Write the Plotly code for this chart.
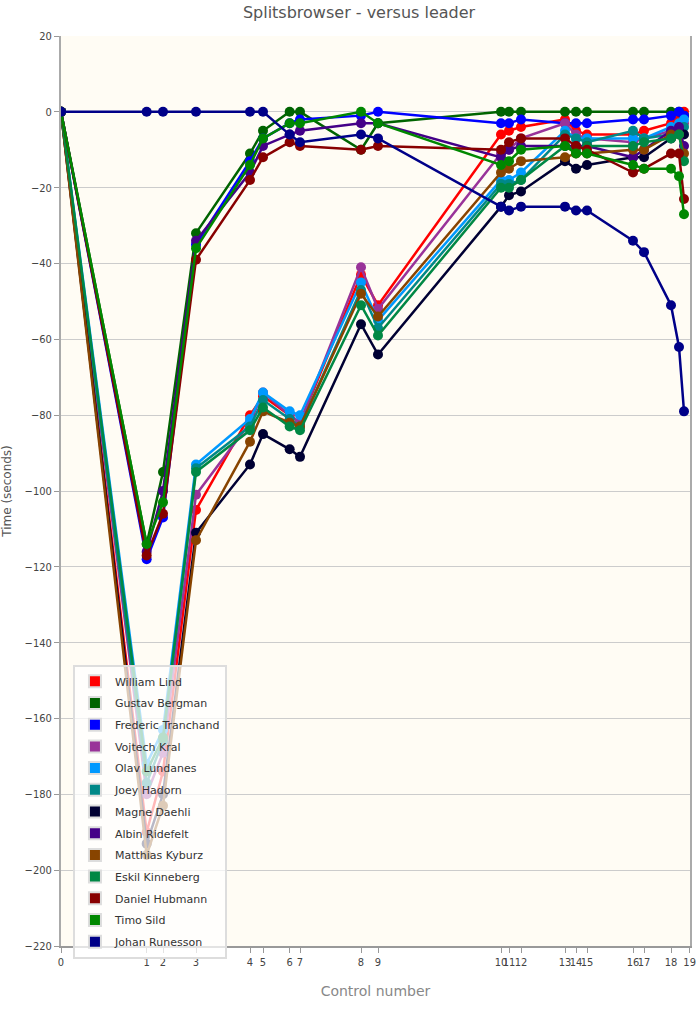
import plotly.graph_objects as go

# cumulative leader time (seconds) at each control column (0..18, 19, finish)
control_x = [0, 257, 306, 405, 567, 606, 686, 717, 900, 951, 1320, 1344, 1380,
             1512, 1545, 1578, 1716, 1749, 1830, 1854, 1869]
tick_vals = [0, 257, 306, 405, 567, 606, 686, 717, 900, 951, 1320, 1344, 1380,
             1512, 1545, 1578, 1716, 1749, 1830, 1886]
tick_text = [str(i) for i in range(20)]

runners = ["William Lind", "Gustav Bergman", "Frederic Tranchand", "Vojtech Kral",
           "Olav Lundanes", "Joey Hadorn", "Magne Daehli", "Albin Ridefelt",
           "Matthias Kyburz", "Eskil Kinneberg", "Daniel Hubmann", "Timo Sild",
           "Johan Runesson"]
colours = ["#ff0000", "#006400", "#0000ff", "#993399", "#0099ff", "#008888",
           "#000033", "#440088", "#884400", "#008844", "#880000", "#008800",
           "#000088"]

william = [0, -190, -174, -105, -80, -75, -80, -82, -43, -51, -6, -5, -4, -2, -5, -6, -6, -5, -3, -1, 0]
gustav = [0, -114, -95, -32, -11, -5, 0, 0, -10, -3, 0, 0, 0, 0, 0, 0, 0, 0, 0, 0, -1]
frederic = [0, -118, -107, -35, -13, -7, -3, -2, -1, 0, -3, -3, -2, -3, -3, -3, -2, -2, -1, 0, -1]
vojtech = [0, -180, -169, -101, -82, -74, -80, -82, -41, -52, -11, -10, -7, -3, -6, -7, -8, -7, -5, -4, -3]
olav = [0, -172, -163, -93, -81, -74, -79, -80, -45, -55, -18, -18, -16, -5, -7, -7, -7, -7, -4, -3, -2]
joey = [0, -177, -166, -94, -83, -76, -81, -83, -47, -57, -19, -19, -18, -6, -7, -8, -5, -7, -6, -5, -4]
magne = [0, -193, -180, -111, -93, -85, -89, -91, -56, -64, -25, -22, -21, -13, -15, -14, -12, -12, -7, -5, -6]
albin = [0, -116, -100, -34, -16, -9, -6, -5, -3, -3, -12, -10, -9, -9, -9, -9, -12, -10, -5, -4, -9]
matthias = [0, -196, -183, -113, -87, -79, -82, -83, -48, -54, -16, -15, -13, -12, -11, -11, -10, -10, -6, -6, -11]
eskil = [0, -174, -165, -95, -84, -78, -83, -84, -51, -59, -20, -20, -18, -9, -10, -9, -9, -8, -7, -6, -13]
daniel = [0, -117, -106, -39, -18, -12, -8, -9, -10, -9, -10, -8, -7, -7, -9, -10, -16, -15, -11, -11, -23]
timo = [0, -114, -103, -36, -14, -7, -3, -3, 0, -3, -14, -13, -10, -9, -11, -11, -14, -15, -15, -17, -27]
johan = [0, 0, 0, 0, 0, 0, -6, -8, -6, -7, -25, -26, -25, -25, -26, -26, -34, -37, -51, -62, -79]

series = [william, gustav, frederic, vojtech, olav, joey, magne, albin,
          matthias, eskil, daniel, timo, johan]

y_ticks = list(range(-220, 21, 20))

FONT = "DejaVu Sans"
TICKFONT = "DejaVu Sans Condensed, Liberation Sans Narrow, DejaVu Sans"
W, H = 700, 1009
fig = go.Figure()
for name, col, vals in zip(runners, colours, series):
    fig.add_trace(go.Scatter(
        x=control_x, y=vals, mode="lines+markers", name=name,
        line=dict(color=col, width=2.5),
        marker=dict(color=col, size=10),
        showlegend=False, hoverinfo="name+y"))
for name, col in zip(runners, colours):
    fig.add_trace(go.Scatter(
        x=[None], y=[None], mode="markers", name=name, legendgroup=name,
        marker=dict(color=col, symbol="square", size=13,
                    line=dict(color="#dddddd", width=2)),
        showlegend=True))

fig.update_layout(
    width=W, height=H,
    margin=dict(l=61, r=10, t=36, b=63, autoexpand=False),
    paper_bgcolor="white",
    plot_bgcolor="#fffcf4",
    font=dict(family=FONT, size=11, color="#333333"),
    title=dict(text="Splitsbrowser - versus leader", x=359 / W, xref="container",
               y=1 - 12 / H, yref="container", xanchor="center", yanchor="middle",
               font=dict(family=FONT, size=16, color="#555555")),
    xaxis=dict(range=[0, 1887], tickmode="array", tickvals=tick_vals, ticktext=tick_text,
               tickangle=0, automargin=False,
               showgrid=False, zeroline=False, showline=True, linecolor="#999999",
               linewidth=2, ticks="outside", ticklen=5, tickcolor="#999999",
               tickfont=dict(family=TICKFONT, size=11, color="#444444"),
               title=dict(text="Control number", standoff=18,
                          font=dict(size=14, color="#888888"))),
    yaxis=dict(range=[-220, 20], tickmode="array", tickvals=y_ticks, automargin=False,
               showgrid=True, gridcolor="#cccccc", gridwidth=1, zeroline=False,
               showline=True, mirror=True, linecolor="#aaaaaa", linewidth=2,
               ticks="outside", ticklen=5, tickcolor="#999999",
               tickfont=dict(family=TICKFONT, size=11, color="#444444"),
               title=dict(text="Time (seconds)", standoff=14,
                          font=dict(size=12, color="#555555"))),
    legend=dict(x=0.019, y=0.309, xanchor="left", yanchor="top",
                bgcolor="rgba(255,255,255,0.72)", bordercolor="#dddddd", borderwidth=2,
                font=dict(family=FONT, size=11, color="#333333"),
                itemsizing="constant", tracegroupgap=2.7),
    showlegend=True,
)

fig.write_html("out.html", config={"displayModeBar": False},
               post_script="document.body.style.margin='0';document.body.style.overflow='hidden';")
